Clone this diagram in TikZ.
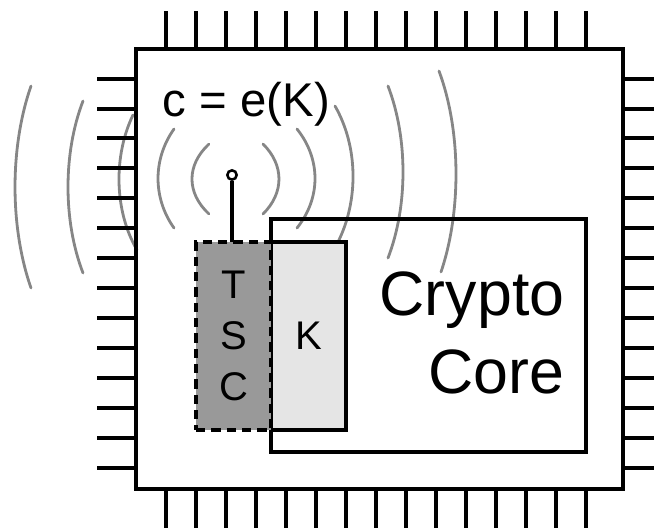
\documentclass[tikz,border=0pt]{standalone}
\usepackage{fontspec}
\setmainfont{Liberation Sans}
\tikzset{
  chippin/.style={line width=2.7pt},
  wave/.style={line width=2.1pt,color=gray!95!white,line cap=round},
  block/.style={draw,line width=2.4pt,outer sep=0pt,inner sep=0pt,align=center},
  smalltext/.style={font=\fontsize{30}{38}\selectfont},
}
\begin{document}
\begin{tikzpicture}[x=0.75pt,y=-0.75pt]
      \useasboundingbox (0,0) rectangle (654,532);
      \begin{scope}[wave]
        \draw (209,144) .. controls (186.3,165) and (186.3,193) .. (209,214);
        \draw (263,144) .. controls (284.3,165) and (284.3,193) .. (263,214);
        \draw (174,129) .. controls (152.7,159) and (152.7,198) .. (174,228);
        \draw (297,129) .. controls (321,159) and (321,198) .. (297,228);
        \draw (133,115) .. controls (113.7,155) and (113.7,210) .. (137,250);
        \draw (335,106) .. controls (358.5,147) and (358.5,201) .. (338,242);
        \draw (83,101) .. controls (63,153) and (63,221) .. (83,273);
        \draw (388,86) .. controls (408,138) and (408,206) .. (388,258);
        \draw (31,86) .. controls (9.7,147) and (9.7,227) .. (31,288);
        \draw (439,71) .. controls (461.3,131) and (461.3,212) .. (441,272);
      \end{scope}
      \begin{scope}[chippin]
        \draw (166,11) -- (166,49) (196,11) -- (196,49) (226,11) -- (226,49)
          (256,11) -- (256,49) (286,11) -- (286,49) (316,11) -- (316,49)
          (346,11) -- (346,49) (376,11) -- (376,49) (406,11) -- (406,49)
          (436,11) -- (436,49) (466,11) -- (466,49) (496,11) -- (496,49)
          (526,11) -- (526,49) (556,11) -- (556,49) (586,11) -- (586,49);
        \draw (166,489) -- (166,528) (196,489) -- (196,528) (226,489) -- (226,528)
          (256,489) -- (256,528) (286,489) -- (286,528) (316,489) -- (316,528)
          (346,489) -- (346,528) (376,489) -- (376,528) (406,489) -- (406,528)
          (436,489) -- (436,528) (466,489) -- (466,528) (496,489) -- (496,528)
          (526,489) -- (526,528) (556,489) -- (556,528) (586,489) -- (586,528);
        \draw (97,79) -- (136,79) (97,109) -- (136,109) (97,138) -- (136,138)
          (97,168) -- (136,168) (97,198) -- (136,198) (97,228) -- (136,228)
          (97,258) -- (136,258) (97,288) -- (136,288) (97,318) -- (136,318)
          (97,348) -- (136,348) (97,378) -- (136,378) (97,408) -- (136,408)
          (97,438) -- (136,438) (97,468) -- (136,468);
        \draw (623,79) -- (654,79) (623,109) -- (654,109) (623,138) -- (654,138)
          (623,168) -- (654,168) (623,198) -- (654,198) (623,228) -- (654,228)
          (623,258) -- (654,258) (623,288) -- (654,288) (623,318) -- (654,318)
          (623,348) -- (654,348) (623,378) -- (654,378) (623,408) -- (654,408)
          (623,438) -- (654,438) (623,468) -- (654,468);
      \end{scope}
      \node[block,minimum width=365.25pt,minimum height=330pt] (chip) at (379.5,269) {};
      \node[block,minimum width=236.25pt,minimum height=174.75pt] (core) at (428.5,335.5) {};
      \node[block,fill=black!10,minimum width=56.25pt,minimum height=141pt,smalltext] (key) at (308.5,336) {K};
      \node[block,dash pattern=on 7pt off 4.5pt,fill=black!40,minimum width=56.25pt,minimum height=141pt,smalltext] (tsc) at (233.5,336) {T\\S\\C};
      \node[draw,circle,line width=1.9pt,fill=white,inner sep=0pt,minimum size=7pt] (tip) at (232,175) {};
      \draw[line width=2.6pt] (tip) -- (tip |- tsc.north);
      \node[font=\fontsize{35.5}{40}\selectfont] (cipher) at (246.5,104) {c = e(K)};
      \node[font=\fontsize{47}{58}\selectfont,align=right,anchor=east] (corename) at (569,333) {Crypto\\Core};
    \end{tikzpicture}
\end{document}
